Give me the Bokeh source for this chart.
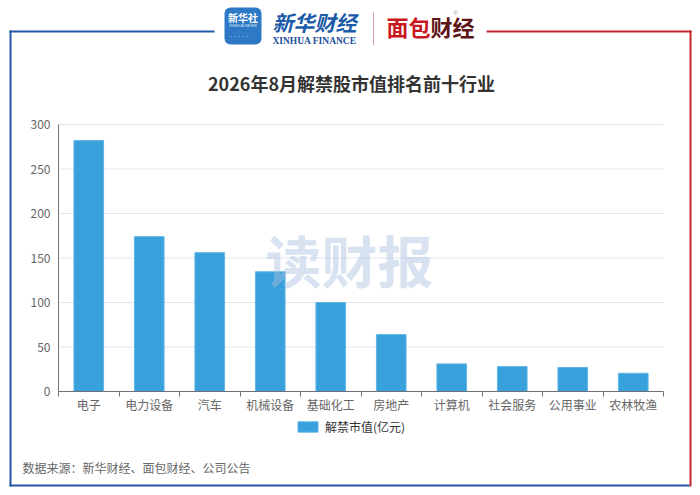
from bokeh.plotting import figure
from bokeh.models import (Range1d, LinearAxis, FixedTicker, Label, BoxAnnotation,
                          Legend, LegendItem, ColumnDataSource)
from bokeh.embed import file_html
from bokeh.resources import INLINE

# ---------------- data ----------------
categories = ["电子", "电力设备", "汽车", "机械设备", "基础化工", "房地产", "计算机", "社会服务", "公用事业", "农林牧渔"]
values = [282, 174, 156, 134.5, 100, 64, 31, 28, 27, 20.5]
series_name = "解禁市值(亿元)"
y_ticks = [0, 50, 100, 150, 200, 250, 300]
title_text = "2026年8月解禁股市值排名前十行业"
source_text = "数据来源：新华财经、面包财经、公司公告"
watermark_text = "读财报"

# ---------------- layout (pixels) ----------------
W, H = 694, 489
PL, PR, PT, PB = 58, 663, 124, 391          # plot area edges in pixels
FONT = "Noto Sans CJK SC"
BAR = "#38a1db"
BLUE = "#2458a6"
RED = "#c1272d"

n = len(categories)
idx = list(range(n))
src = ColumnDataSource(dict(idx=idx, cat=categories, val=values))

# ranges chosen so that the data area lands on the plot-area pixels while the frame fills the canvas
cw = (PR - PL) / n
x0 = -0.5 - PL / cw
x1 = (n - 0.5) + (W - PR) / cw
k = (PB - PT) / (y_ticks[-1] - y_ticks[0])
y0 = y_ticks[0] - (H - PB) / k
y1 = y_ticks[-1] + PT / k

p = figure(width=W, height=H, x_range=Range1d(x0, x1), y_range=Range1d(y0, y1),
           x_axis_location=None, y_axis_location=None,
           output_backend="svg", toolbar_location=None,
           min_border_left=0, min_border_right=0, min_border_top=0, min_border_bottom=0)
p.outline_line_color = None
p.background_fill_color = "white"
p.border_fill_color = "white"
p.xgrid.visible = False
p.ygrid.visible = False

# grid lines across the category span
p.segment(x0=[-0.5] * len(y_ticks[1:]), x1=[n - 0.5] * len(y_ticks[1:]), y0=y_ticks[1:], y1=y_ticks[1:],
          line_color="#e0e6f1", line_width=1)

r = p.vbar(x="idx", top="val", width=0.49, source=src, fill_color=BAR,
           line_color="#62b6e6", line_width=1)

# y axis
ya = LinearAxis(fixed_location=-0.5, bounds=(y_ticks[0], y_ticks[-1]), ticker=FixedTicker(ticks=y_ticks),
                axis_line_color="#6e7079", major_tick_line_color=None, minor_tick_line_color=None,
                major_tick_out=0, major_tick_in=0, major_label_standoff=8,
                major_label_text_font=FONT, major_label_text_font_size="12px",
                major_label_text_color="#666666")
p.add_layout(ya, "left")

# x axis line + ticks at category boundaries
xb = LinearAxis(fixed_location=0, bounds=(-0.5, n - 0.5),
                ticker=FixedTicker(ticks=[i - 0.5 for i in range(n + 1)]),
                axis_line_color="#6e7079", major_tick_line_color="#6e7079",
                major_tick_out=5, major_tick_in=0, minor_tick_line_color=None,
                major_label_text_color=None)
p.add_layout(xb, "below")
# x category labels
xl = LinearAxis(fixed_location=0, ticker=FixedTicker(ticks=idx),
                major_label_overrides={i: c for i, c in zip(idx, categories)},
                axis_line_color=None, major_tick_line_color=None, minor_tick_line_color=None,
                major_tick_out=0, major_tick_in=0, major_label_standoff=4,
                major_label_text_font=FONT, major_label_text_font_size="12px",
                major_label_text_color="#666666")
p.add_layout(xl, "below")

# legend
legend = Legend(items=[LegendItem(label=series_name, renderers=[r])], location=(295, H - 435),
                orientation="horizontal", glyph_width=25, glyph_height=13,
                label_text_font=FONT, label_text_font_size="12px", label_text_color="#333333",
                border_line_color=None, background_fill_alpha=0, padding=2, margin=0,
                label_standoff=5)
p.add_layout(legend, "center")

def box(l, rr, t, b, color, radius=0):
    p.add_layout(BoxAnnotation(left=l, right=rr, top=t, bottom=b,
                               left_units="canvas", right_units="canvas",
                               top_units="canvas", bottom_units="canvas",
                               fill_color=color, fill_alpha=1, line_color=None,
                               border_radius=radius, level="annotation"))

def label(x, y, text, size, color, bold=False, align="center", font=FONT, italic=False, alpha=1.0):
    style = "bold" if bold else "normal"
    if italic:
        style = "bold italic" if bold else "italic"
    p.add_layout(Label(x=x, y=y, x_units="canvas", y_units="canvas", text=text,
                       text_font=font, text_font_size=size, text_color=color,
                       text_font_style=style, text_align=align, text_baseline="middle",
                       text_alpha=alpha, level="overlay"))

# outer frame
box(9, 214, 30, 32, BLUE)
box(486, 691, 30, 32, RED)
box(9, 11, 30, 486, BLUE)
box(689, 691, 30, 486, RED)
box(9, 689, 484, 486, BLUE)

# header logos
box(224, 261, 7, 44, "#2e79c6", radius=6)
label(242.5, 16.5, "新华社", "10px", "white", bold=True)
label(242.5, 25, "XINHUA NEWS", "4px", "#dbe8f7", font="Liberation Sans")
label(242.5, 36, "·  ·  ·  ·  ·", "7px", "#cfe2f6", font="Liberation Sans")
label(314, 21, "新华财经", "21px", "#1b5ba8", bold=True, italic=True)
label(314, 40.5, "XINHUA FINANCE", "9.5px", "#1b4e9b", bold=True, font="Liberation Serif")
box(372.5, 373.5, 12, 45, "#d9a3a5")
label(408, 25, "面包", "22px", "#c9171e", bold=True)
label(452, 25, "财经", "22px", "#5e1515", bold=True)
label(455, 12, "®", "6px", "#999999", font="Liberation Sans")

# title
label(351, 82, title_text, "18px", "#333333", bold=True)

# watermark
label(349, 258, watermark_text, "56px", "#aabfe0", bold=True, alpha=0.45)

# footer
label(22, 467, source_text, "12px", "#666666", align="left")

open("out.html", "w").write(file_html(p, INLINE))
